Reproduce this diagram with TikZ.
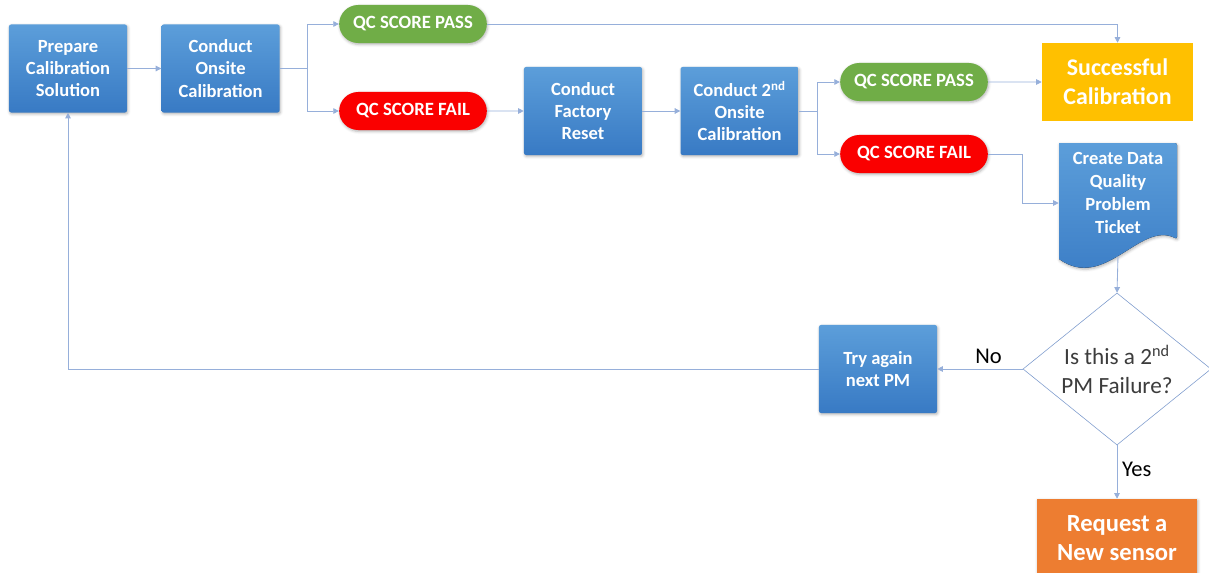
\documentclass[tikz,border=0pt]{standalone}
\usepackage{fontspec}
\setmainfont{Carlito}
\usetikzlibrary{arrows.meta, positioning, shapes.geometric, shapes.misc, calc, shadows.blur}
\definecolor{blockhi}{RGB}{92,158,218}
\definecolor{blocklo}{RGB}{56,122,196}
\definecolor{passgreen}{RGB}{112,173,71}
\definecolor{failred}{RGB}{250,0,0}
\definecolor{goldbox}{RGB}{255,192,0}
\definecolor{orangebox}{RGB}{237,125,49}
\definecolor{wireblue}{RGB}{150,175,218}
\definecolor{diamondline}{RGB}{125,155,205}
\definecolor{textgrey}{RGB}{60,60,60}

\begin{document}
\begin{tikzpicture}[
    x=0.025cm, y=-0.025cm,
    box/.style={
      rectangle,
      rounded corners=1.5pt,
      draw=none,
      align=center,
      minimum width=2.95cm,
      minimum height=2.2cm,
      inner sep=2pt,
      top color=blockhi,
      bottom color=blocklo,
      text=white,
      font=\bfseries\fontsize{13.2}{15.8}\selectfont,
      blur shadow={shadow xshift=0.6pt, shadow yshift=-1pt, shadow opacity=30, shadow blur steps=4}
    },
    pill/.style={
      rounded rectangle,
      draw=none,
      minimum width=3.925cm,
      minimum height=0.95cm,
      text=white,
      font=\bfseries\fontsize{13.3}{15}\selectfont,
      blur shadow={shadow xshift=0.6pt, shadow yshift=-1pt, shadow opacity=30, shadow blur steps=4}
    },
    pass/.style={pill, fill=passgreen},
    fail/.style={pill, fill=failred},
    outcome/.style={
      rectangle,
      draw=none,
      align=center,
      text=white,
      font=\bfseries\fontsize{17}{20.5}\selectfont
    },
    decision/.style={
      diamond,
      draw=diamondline,
      thin,
      fill=white,
      aspect=1.25,
      minimum width=4.7cm,
      minimum height=3.8cm,
      inner sep=0pt,
      align=center,
      text=textgrey,
      font=\fontsize{16.5}{20}\selectfont
    },
    answer/.style={font=\fontsize{16}{19}\selectfont, text=black},
    arrow/.style={-{Triangle[length=4pt, width=4pt]}, semithick, color=wireblue}
]
\useasboundingbox (0,0) rectangle (1209,572);
\clip (0,0) rectangle (1209,572);

% top row
\node[box] (prep) at (68,68.5) {Prepare\\Calibration\\Solution};
\node[box, right=0.85cm of prep] (onsite) {Conduct\\Onsite\\Calibration};
\node[pass] (passa) at (413,24) {QC SCORE PASS};
\node[fail] (faila) at (413,111) {QC SCORE FAIL};
\node[box] (reset) at (583,111) {Conduct\\Factory\\Reset};
\node[box, right=0.95cm of reset] (onsiteb) {Conduct 2\textsuperscript{nd}\\Onsite\\Calibration};
\node[pass] (passb) at (914,82) {QC SCORE PASS};
\node[fail] (failb) at (914,154) {QC SCORE FAIL};
\node[outcome, fill=goldbox, minimum width=3.775cm, minimum height=1.95cm] (success) at (1117.5,82) {Successful\\Calibration};

% ticket (document shape)
\node[rectangle, draw=none, minimum width=2.95cm, minimum height=3cm] (ticket) at (1118,203) {};
\fill[top color=blockhi, bottom color=blocklo, rounded corners=1.5pt,
      blur shadow={shadow xshift=0.6pt, shadow yshift=-1pt, shadow opacity=30, shadow blur steps=4}]
  (1059,143) -- (1177,143) -- (1177,239) [sharp corners]
  .. controls (1140,220) and (1105,292) .. (1059,259) -- cycle;
\node[align=center, text=white, font=\bfseries\fontsize{13.2}{16.3}\selectfont] (ticktext) at (1118,193) {Create Data\\Quality\\Problem\\Ticket};
\coordinate (tkbot) at (1118,256);

% lower part
\node[decision] (decide) at (1117,369) {Is this a 2\textsuperscript{nd}\\PM Failure?};
\node[box] (retry) at (878,369) {Try again\\next PM};
\node[outcome, fill=orangebox, minimum width=4cm, minimum height=1.95cm,
      font=\bfseries\fontsize{17.5}{21}\selectfont,
      blur shadow={shadow xshift=0.6pt, shadow yshift=-1pt, shadow opacity=30, shadow blur steps=4}] (request) at (1117,538) {Request a\\New sensor};

% connectors
\draw[arrow] (prep) -- (onsite);
\draw[arrow] (onsite.east) -- ++(28,0) |- (passa);
\draw[arrow] (onsite.east) -- ++(28,0) |- (faila);
\draw[arrow] (passa) -| (success);
\draw[arrow] (faila) -- (reset);
\draw[arrow] (reset) -- (onsiteb);
\draw[arrow] (onsiteb.east) -- ++(19,0) |- (passb);
\draw[arrow] (onsiteb.east) -- ++(19,0) |- (failb);
\draw[arrow] (passb) -- (success);
\draw[arrow] (failb.east) -- ++(34,0) |- (ticket.west);
\draw[arrow] (tkbot) -- (decide.north);
\draw[arrow] (decide) -- node[answer, above, pos=0.4] {No} (retry);
\draw[arrow] (decide) -- node[answer, right, pos=0.45] {Yes} (request);
\draw[arrow] (retry.west) -| (prep.south);
\end{tikzpicture}
\end{document}
